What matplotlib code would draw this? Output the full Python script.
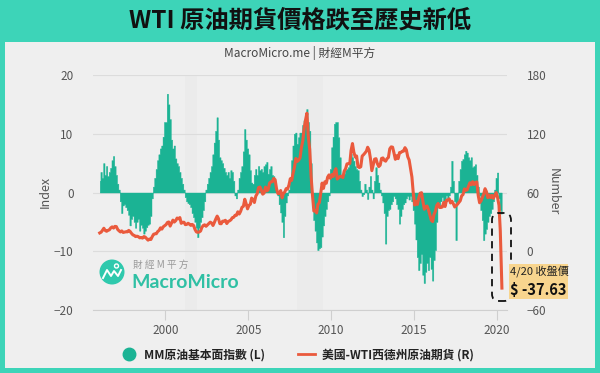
import numpy as np
import pandas as pd
import matplotlib
matplotlib.use('Agg')
import matplotlib.pyplot as plt
from matplotlib.patches import Rectangle, Circle, FancyBboxPatch
from matplotlib.lines import Line2D
from matplotlib.transforms import IdentityTransform

plt.rcParams['font.family'] = ['Noto Sans CJK TC', 'DejaVu Sans']

# ---- data (monthly, 1996-01 .. 2020-04) ----
mm_index = [
    2.0, 3.5, 2.5, 5.0, 3.0, 4.5, 2.8, 3.5, 4.2, 5.5, 6.2, 4.5,          # 1996
    3.0, 1.5, 0.5, -1.5, -3.5, -2.2, -2.0, -2.5, -3.0, -3.8, -5.6, -4.5,  # 1997
    -4.0, -5.0, -6.0, -5.0, -4.5, -6.5, -5.5, -6.0, -7.0, -6.5, -5.9, -5.5,  # 1998
    -5.3, -4.0, -1.0, 1.0, 2.5, 4.0, 5.5, 6.5, 7.5, 8.0, 9.5, 12.0,      # 1999
    12.0, 16.8, 15.0, 12.5, 9.0, 7.5, 8.0, 5.8, 5.0, 4.5, 3.5, 2.5,      # 2000
    1.5, 0.5, -0.8, -1.5, -1.8, -2.0, -2.5, -3.5, -4.2, -5.0, -6.0, -7.6,  # 2001
    -6.0, -5.0, -4.2, -3.0, -1.5, 0.5, 1.5, 2.5, 3.5, 4.5, 6.5, 8.5,     # 2002
    10.5, 12.8, 9.0, 6.0, 5.5, 5.0, 4.2, 3.5, 3.0, 3.5, 2.5, 3.8,        # 2003
    3.5, 2.0, -0.5, -1.0, 0.5, 2.5, 3.5, 4.5, 7.0, 10.8, 9.0, 7.5,       # 2004
    6.5, 3.8, 1.7, 1.5, 3.0, 4.0, 3.0, 4.5, 3.8, 4.0, 3.5, 4.5,          # 2005
    4.8, 5.2, 3.2, 4.0, 4.5, 3.0, 2.8, 1.5, 0.5, -0.5, -2.0, -3.4,       # 2006
    -5.0, -7.6, -4.0, -1.7, -0.5, 0.5, 2.5, 5.5, 8.0, 10.0, 10.2, 8.3,   # 2007
    9.4, 10.2, 10.2, 11.5, 12.3, 13.5, 14.2, 12.0, 10.5, 5.0, -2.5, -4.7,  # 2008
    -6.5, -8.5, -9.8, -9.5, -9.3, -7.5, -5.6, -4.0, -2.8, -1.5, -0.5, 4.0,  # 2009
    7.7, 9.5, 11.7, 12.0, 12.0, 9.4, 6.0, 2.8, 3.0, 3.2, 3.8, 4.0,       # 2010
    4.3, 5.0, 6.6, 6.0, 5.4, 4.5, 4.0, 3.8, 2.0, 0.5, -0.6, -0.3,        # 2011
    1.5, 0.5, -1.1, 1.0, 2.8, 0.5, -1.0, 2.0, 4.3, 3.0, 1.7, 0.5,        # 2012
    -0.5, -1.7, -3.5, -8.7, -4.0, -3.0, -2.8, -2.0, -1.5, -0.6, -1.0, -2.0,  # 2013
    -2.8, -5.3, -4.0, -2.8, -2.0, -1.7, -1.0, -0.6, -1.2, -0.6, -1.5, -3.0,  # 2014
    -5.3, -8.0, -11.0, -13.2, -12.0, -10.5, -14.0, -15.4, -13.5, -12.0, -13.2, -11.0,  # 2015
    -13.0, -15.0, -11.5, -9.8, -5.0, -1.7, -2.5, -1.5, -0.8, -2.0, -1.5, -0.5,  # 2016
    -1.0, -0.5, 1.0, 5.4, 2.0, -1.5, -8.1, -2.0, 2.0, 4.0, 5.4, 5.7,     # 2017
    6.5, 7.1, 6.8, 6.0, 5.5, 6.0, 4.3, 4.5, 4.8, 3.0, 1.0, -0.5,         # 2018
    -3.0, -4.7, -8.1, -7.0, -6.2, -5.0, -4.0, -3.5, -2.8, -1.5, 0.5, 2.5,  # 2019
    3.4, -1.0, -3.0, -3.6,                                               # 2020
]

wti = [
    18.7, 19.5, 21.3, 23.5, 21.2, 20.4, 21.3, 21.9, 23.9, 24.9, 23.7, 25.4,   # 1996
    25.2, 22.2, 20.9, 19.7, 20.8, 19.2, 19.6, 19.9, 19.8, 21.3, 20.2, 18.3,   # 1997
    16.7, 16.1, 15.0, 15.4, 14.9, 13.7, 14.1, 13.4, 15.0, 14.4, 12.9, 11.3,   # 1998
    12.5, 12.0, 14.7, 17.3, 17.8, 17.9, 20.1, 21.3, 23.9, 22.6, 25.0, 26.1,   # 1999
    27.2, 29.4, 29.9, 25.7, 28.8, 31.8, 29.8, 31.2, 33.9, 33.1, 34.4, 28.5,   # 2000
    29.6, 29.6, 27.2, 27.4, 28.6, 27.6, 26.4, 27.4, 26.2, 22.2, 19.7, 19.3,   # 2001
    19.7, 20.7, 24.4, 26.3, 27.0, 25.5, 26.9, 28.4, 29.7, 28.9, 26.3, 29.4,   # 2002
    32.9, 35.9, 33.5, 28.2, 28.1, 30.7, 30.8, 31.6, 28.3, 30.3, 31.1, 32.1,   # 2003
    34.3, 34.7, 36.7, 36.7, 40.3, 38.0, 40.7, 44.9, 45.9, 53.1, 48.5, 43.3,   # 2004
    46.8, 48.0, 54.3, 53.0, 49.8, 56.3, 58.7, 65.0, 65.6, 62.3, 58.3, 59.4,   # 2005
    65.5, 61.6, 62.9, 69.7, 70.9, 71.0, 74.4, 73.1, 63.9, 58.9, 59.1, 62.0,   # 2006
    54.5, 59.3, 60.4, 64.0, 63.5, 67.5, 74.1, 72.4, 79.9, 85.8, 94.8, 91.7,   # 2007
    93.0, 95.4, 105.5, 112.6, 125.4, 134.0, 141.0, 116.7, 104.1, 76.6, 57.3, 41.1,  # 2008
    41.7, 39.1, 47.9, 49.6, 59.0, 69.6, 64.2, 71.0, 69.4, 75.7, 78.0, 74.5,   # 2009
    78.3, 76.4, 81.2, 84.3, 73.7, 75.3, 76.3, 76.6, 75.2, 81.9, 84.3, 89.2,   # 2010
    89.5, 89.6, 102.9, 110.0, 101.3, 96.3, 97.3, 86.3, 85.5, 86.3, 97.2, 98.6,  # 2011
    100.3, 102.2, 106.2, 103.3, 94.7, 82.3, 87.9, 94.1, 94.5, 89.5, 86.5, 87.9,  # 2012
    94.8, 95.3, 92.9, 92.0, 94.5, 95.8, 104.6, 106.6, 106.3, 100.5, 93.9, 97.6,  # 2013
    94.6, 100.8, 100.8, 102.1, 102.2, 105.8, 103.6, 96.5, 93.2, 84.4, 75.8, 59.3,  # 2014
    47.2, 50.6, 47.8, 54.5, 59.3, 59.8, 50.9, 42.9, 45.5, 46.2, 42.4, 37.2,   # 2015
    31.7, 30.3, 37.5, 40.8, 46.7, 48.8, 44.7, 44.7, 45.2, 49.8, 45.7, 52.0,   # 2016
    52.5, 53.5, 49.3, 51.1, 48.5, 45.2, 46.6, 48.0, 49.8, 51.6, 56.6, 57.9,   # 2017
    63.7, 62.2, 62.7, 66.3, 70.0, 67.9, 71.0, 68.1, 70.2, 70.8, 57.0, 49.5,   # 2018
    51.4, 55.0, 58.2, 63.9, 60.8, 54.7, 57.4, 54.8, 57.0, 54.0, 57.0, 59.9,   # 2019
    55.0, 47.0, 21.0, -37.63,                                                  # 2020
]

recessions = [('2001-03-01', '2001-11-30'), ('2007-12-01', '2009-06-30')]
x_ticks = ['2000', '2005', '2010', '2015', '2020']
left_ticks = [-20, -10, 0, 10, 20]
right_ticks = [-60, 0, 60, 120, 180]

months = pd.date_range('1996-01-01', '2020-04-01', freq='MS') + pd.Timedelta(days=14)
wti_dates = months[:-1].append(pd.DatetimeIndex(['2020-04-20']))

teal = '#1bb394'
red = '#ea5a3d'
band = '#3dd4b8'
panel = '#efefef'

W, H = 600, 373
def fx(x):
    return x / W
def fy(y):
    return 1 - y / H

fig = plt.figure(figsize=(6, 3.73), dpi=100, facecolor=band)
fig.add_artist(Rectangle((fx(5), fy(368)), fx(590), 326 / H, transform=fig.transFigure,
                         facecolor=panel, edgecolor='none', zorder=-5))

fig.text(0.5, fy(21), 'WTI 原油期貨價格跌至歷史新低', ha='center', va='center',
         fontsize=17.5, fontweight='bold', color='#111111')
fig.text(0.5, fy(53), 'MacroMicro.me | 財經M平方', ha='center', va='center',
         fontsize=8.5, color='#444444')

ax = fig.add_axes([fx(93), fy(310), fx(414), 235 / H])
ax.patch.set_visible(False)
ax2 = ax.twinx()
ax2.patch.set_visible(False)

for a, b in recessions:
    ax.axvspan(pd.Timestamp(a), pd.Timestamp(b), color='#ebebeb', zorder=0, lw=0)

ax.fill_between(months, 0, mm_index, step='mid', color=teal, linewidth=0.3, edgecolor=teal, zorder=2)
ax2.plot(wti_dates, wti, color=red, lw=2.2, zorder=3)

ax.set_ylim(-20, 20)
ax2.set_ylim(-60, 180)
ax.set_yticks(left_ticks)
ax2.set_yticks(right_ticks)
ax.set_xlim(pd.Timestamp('1995-08-20'), pd.Timestamp('2020-08-10'))
ax.set_xticks([pd.Timestamp(t + '-01-01') for t in x_ticks])
ax.set_xticklabels(x_ticks)

ax.grid(axis='y', color='#dcdcdc', lw=0.8, zorder=1)
for s in ['top', 'left', 'right']:
    ax.spines[s].set_visible(False)
    ax2.spines[s].set_visible(False)
ax2.spines['bottom'].set_visible(False)
ax.spines['bottom'].set_color('#cfcfcf')
ax.tick_params(axis='x', colors='#cfcfcf', length=7, labelcolor='#555555', labelsize=8.5, pad=3)
ax.tick_params(axis='y', length=0, labelcolor='#555555', labelsize=8.5, pad=14)
ax2.tick_params(axis='y', length=0, labelcolor='#555555', labelsize=8.5, pad=14)

fig.text(fx(45), fy(192), 'Index', rotation=90, ha='center', va='center', fontsize=9, color='#555555')
fig.text(fx(553), fy(192), 'Number', rotation=270, ha='center', va='center', fontsize=9, color='#555555')

# watermark logo
ident = IdentityTransform()
fig.add_artist(Circle((112, H - 272), 12.5, transform=ident, facecolor='#2fc9ad', edgecolor='none', zorder=5))
icon_x = [103, 107, 111, 114, 118, 121]
icon_y = [278, 270, 276, 271, 276, 270]
fig.add_artist(Line2D(icon_x, [H - v for v in icon_y], transform=ident, color='white', lw=1.4, zorder=6))
fig.add_artist(Circle((116.5, H - 266), 2, transform=ident, facecolor='none', edgecolor='white', lw=1, zorder=6))
fig.text(fx(133), fy(265), '財 經 M 平 方', fontsize=7, color='#9a9a9a', va='center', ha='left')
fig.text(fx(131), fy(283), 'MacroMicro', fontsize=14, color='#2fc0a4', va='center', ha='left',
         family=['Lato', 'DejaVu Sans'], fontweight='bold')

# annotation for the 4/20 close
fig.add_artist(FancyBboxPatch((492, H - 301), 19, 88, boxstyle='round,pad=0,rounding_size=7',
                              transform=ident, facecolor='none', edgecolor='#111111', lw=1.3,
                              linestyle=(0, (4, 3)), zorder=7))
fig.add_artist(Rectangle((fx(509), fy(299)), fx(59), 35 / H, transform=fig.transFigure,
                         facecolor='#f8d58e', edgecolor='none', zorder=7))
fig.text(fx(510), fy(272), '4/20 收盤價', fontsize=8, color='#222222', va='center', ha='left', zorder=8)
fig.text(fx(510), fy(290), '$ -37.63', fontsize=10.5, fontweight='bold', color='#111111',
         va='center', ha='left', zorder=8)

handles = [Line2D([], [], marker='o', color='none', markerfacecolor=teal, markeredgecolor=teal, markersize=9),
           Line2D([], [], color=red, lw=2)]
fig.legend(handles, ['MM原油基本面指數 (L)', '美國-WTI西德州原油期貨 (R)'], loc='center',
           bbox_to_anchor=(0.495, fy(355)), ncol=2, frameon=False,
           prop={'weight': 'bold', 'size': 8.5}, handlelength=1.4, columnspacing=2.8,
           handletextpad=0.6, labelcolor='#222222')

fig.savefig('out.png', dpi=100, facecolor=band)
